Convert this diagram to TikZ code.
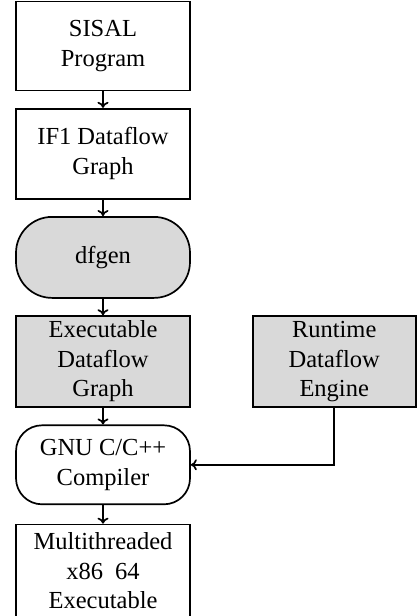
\documentclass[tikz,border=0pt]{standalone}
\usepackage{fontspec}
\setmainfont{Liberation Serif}
\usetikzlibrary{arrows.meta,positioning}

\begin{document}
\begin{tikzpicture}[
            x = 1pt, y = 1pt,
            > = {To[length=6pt,width=11pt]}, % arrow head style
            node distance = 16.5pt, % gap between boxes
            line width = 1.7pt,
            font = \fontsize{24.5}{29.5}\selectfont
        ]

        \tikzset{
            block/.style = {draw = black, fill = white, align = center,
                inner sep = 0pt, minimum width = 174pt},
            shaded/.style = {fill = black!15},
            pill/.style = {block, rounded corners = #1}
        }

        \useasboundingbox (0,0) rectangle (417,-616);

        \node[block, minimum height = 89pt] (sisal) at (103,-46) {SISAL\\Program};
        \node[block, minimum height = 90pt] (if1) [below=of sisal] {IF1 Dataflow\\Graph};
        \node[pill=36pt, shaded, minimum height = 81pt] (dfgen) [below=of if1] {dfgen};
        \node[block, shaded, minimum height = 91pt] (exec) [below=of dfgen] {Executable\\Dataflow\\Graph};
        \node[block, shaded, minimum height = 91pt, minimum width = 163pt] (rt) [right=61pt of exec] {Runtime\\Dataflow\\Engine};
        \node[pill=26pt, minimum height = 79pt] (gnu) [below=of exec] {GNU C/C++\\Compiler};
        \node[block, minimum height = 93pt] (bin) [below=18.5pt of gnu] {Multithreaded\\x86~ 64\\Executable};

        \draw[->] (sisal) -- (if1);
        \draw[->] (if1) -- (dfgen);
        \draw[->] (dfgen) -- (exec);
        \draw[->] (exec) -- (gnu);
        \draw[->] (gnu) -- (bin);
        \draw[->] (rt.south) |- (gnu.east);

    \end{tikzpicture}
\end{document}
